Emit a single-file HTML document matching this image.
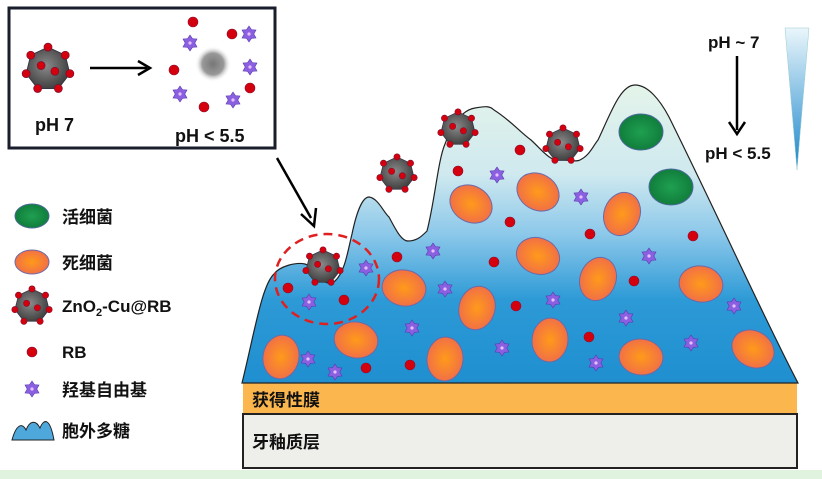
<!DOCTYPE html>
<html><head><meta charset="utf-8"><style>
body{margin:0;background:#fff;width:822px;height:479px;overflow:hidden}
svg{display:block}
text{font-family:"Liberation Sans","Noto Sans CJK SC",sans-serif;font-weight:bold;fill:#111}
</style></head><body>
<svg width="822" height="479" viewBox="0 0 822 479">
<defs>
<radialGradient id="pg" cx="0.45" cy="0.45" r="0.6"><stop offset="0" stop-color="#8a8a8a"/><stop offset="1" stop-color="#3a3a3a"/></radialGradient>
<radialGradient id="og" cx="0.5" cy="0.5" r="0.55"><stop offset="0" stop-color="#ff9a1a"/><stop offset="1" stop-color="#f06c4a"/></radialGradient>
<radialGradient id="gg" cx="0.5" cy="0.5" r="0.55"><stop offset="0" stop-color="#1fa050"/><stop offset="1" stop-color="#0f7a3a"/></radialGradient>
<radialGradient id="blur" cx="0.5" cy="0.5" r="0.5"><stop offset="0" stop-color="#777"/><stop offset="0.6" stop-color="#999"/><stop offset="1" stop-color="#fff" stop-opacity="0"/></radialGradient>
<linearGradient id="mg" x1="0" y1="85" x2="0" y2="383" gradientUnits="userSpaceOnUse">
<stop offset="0" stop-color="#e4f4ea"/><stop offset="0.3" stop-color="#cfe9ef"/><stop offset="0.5" stop-color="#8cc8ea"/><stop offset="0.72" stop-color="#2d9ad6"/><stop offset="1" stop-color="#1f8fd0"/></linearGradient>
<linearGradient id="tg" x1="0" y1="0" x2="0" y2="1"><stop offset="0" stop-color="#eaf6fb"/><stop offset="1" stop-color="#1a86cc"/></linearGradient>
<g id="part">
<polygon points="0,-19 15,-12 19,4 9,17 -9,17 -19,4 -15,-12" fill="url(#pg)" stroke="#334" stroke-width="0.8"/>
<g fill="#d4000d" stroke="#7a1030" stroke-width="0.6">
<circle cx="0" cy="-19" r="3.5"/><circle cx="15" cy="-12" r="3.5"/><circle cx="19" cy="4" r="3.5"/><circle cx="9" cy="17" r="3.5"/><circle cx="-9" cy="17" r="3.5"/><circle cx="-19" cy="4" r="3.5"/><circle cx="-15" cy="-12" r="3.5"/><circle cx="-6" cy="-3" r="3.5"/><circle cx="6" cy="2" r="3.5"/></g></g>
<g id="star"><polygon points="0,-8 2.5,-4.3 7,-4 4.8,0 7,4 2.5,4.3 0,8 -2.5,4.3 -7,4 -4.8,0 -7,-4 -2.5,-4.3" fill="#8a60e0" stroke="#5a3ab0" stroke-width="0.6"/><circle r="1.6" fill="#e8c0ff"/></g>
<g id="rd"><circle r="5" fill="#d4000d" stroke="#8a1030" stroke-width="0.6"/></g>
<g id="oe"><ellipse rx="22" ry="18" fill="url(#og)" stroke="#6a6aa8" stroke-width="1"/></g>
</defs>
<rect x="0" y="470" width="822" height="9" fill="#dff3df"/>
<rect x="9" y="8" width="266" height="140" fill="#fff" stroke="#1a1d2c" stroke-width="3"/>
<use href="#part" transform="translate(48,69) scale(1.15)"/>
<line x1="90" y1="68" x2="147" y2="68" stroke="#000" stroke-width="2.5"/>
<polyline points="138,61 150,68 138,75" fill="none" stroke="#000" stroke-width="2.5"/>
<circle cx="213" cy="64" r="18" fill="url(#blur)"/>
<use href="#rd" x="193" y="22"/><use href="#rd" x="232" y="34"/><use href="#rd" x="174" y="70"/><use href="#rd" x="250" y="88"/><use href="#rd" x="204" y="107"/>
<use href="#star" x="190" y="43"/><use href="#star" x="249" y="34"/><use href="#star" x="250" y="67"/><use href="#star" x="180" y="94"/><use href="#star" x="233" y="100"/>
<text x="35" y="131" font-size="18">pH 7</text>
<text x="175" y="142" font-size="18">pH &lt; 5.5</text>
<line x1="277" y1="158" x2="311" y2="218" stroke="#000" stroke-width="2.5"/>
<polyline points="301,214 314,226 316,208" fill="none" stroke="#000" stroke-width="2.5"/>
<ellipse cx="32" cy="216" rx="17" ry="12" fill="url(#gg)" stroke="#4a6a9a"/>
<text x="62" y="223" font-size="17">活细菌</text>
<ellipse cx="32" cy="262" rx="17" ry="12" fill="url(#og)" stroke="#6a6aa8"/>
<text x="62" y="269" font-size="17">死细菌</text>
<use href="#part" transform="translate(32,306) scale(0.9)"/>
<text x="62" y="312" font-size="17">ZnO<tspan font-size="11" dy="4">2</tspan><tspan dy="-4">-Cu@RB</tspan></text>
<use href="#rd" x="32" y="352"/>
<text x="62" y="358" font-size="17">RB</text>
<use href="#star" x="32" y="389"/>
<text x="62" y="396" font-size="17">羟基自由基</text>
<path d="M12,440 C16,425 22,422 26,430 C30,420 36,420 40,428 C44,418 50,418 54,440 Z" fill="#4ea8dc" stroke="#222" stroke-width="1"/>
<text x="62" y="437" font-size="17">胞外多糖</text>
<text x="708" y="48" font-size="17">pH ~ 7</text>
<line x1="737" y1="56" x2="737" y2="130" stroke="#000" stroke-width="2.5"/>
<polyline points="729,122 737,134 745,122" fill="none" stroke="#000" stroke-width="2.5"/>
<text x="705" y="159" font-size="17">pH &lt; 5.5</text>
<polygon points="785,28 809,28 797,170" fill="url(#tg)" stroke="#9cc" stroke-width="0.5"/>
<rect x="243" y="383" width="554" height="31" fill="#fbb64e"/>
<text x="252" y="406" font-size="17">获得性膜</text>
<rect x="243" y="414" width="554" height="54" fill="#eeeeea" stroke="#222" stroke-width="2"/>
<text x="252" y="448" font-size="17">牙釉质层</text>
<path d="M242,383 C255,330 262,285 274,274 C280,266 296,262 305,264 C318,268 322,290 335,281 C345,272 348,250 352,234 C357,210 363,197 369,197 C378,198 384,213 389,217 C395,228 401,241 408,241 C417,241 422,236 427,231 C435,200 438,160 445,144 C452,125 462,110 475,108 C486,106 490,106 494,110 C510,120 520,132 531,140 C542,150 550,162 561,160 C570,160 577,162 580,160 C590,155 593,146 598,140 C610,115 620,85 635,85 C648,85 660,100 669,117 C720,220 765,320 798,383 Z" fill="url(#mg)" stroke="#222" stroke-width="1.2"/>
<ellipse cx="641" cy="132" rx="22" ry="18" fill="url(#gg)" stroke="#4a6a9a"/>
<ellipse cx="671" cy="187" rx="22" ry="18" fill="url(#gg)" stroke="#4a6a9a"/>
<use href="#oe" transform="translate(471,204) rotate(30)"/>
<use href="#oe" transform="translate(538,192) rotate(30)"/>
<use href="#oe" transform="translate(622,214) rotate(-70)"/>
<use href="#oe" transform="translate(538,256) rotate(20)"/>
<use href="#oe" transform="translate(404,288) rotate(10)"/>
<use href="#oe" transform="translate(598,279) rotate(-70)"/>
<use href="#oe" transform="translate(701,284) rotate(10)"/>
<use href="#oe" transform="translate(477,308) rotate(-75)"/>
<use href="#oe" transform="translate(356,340) rotate(10)"/>
<use href="#oe" transform="translate(281,357) rotate(-80)"/>
<use href="#oe" transform="translate(445,359) rotate(-85)"/>
<use href="#oe" transform="translate(550,340) rotate(-85)"/>
<use href="#oe" transform="translate(641,357) rotate(5)"/>
<use href="#oe" transform="translate(753,349) rotate(30)"/>
<g>
<use href="#rd" x="520" y="150"/><use href="#rd" x="458" y="171"/><use href="#rd" x="510" y="222"/><use href="#rd" x="590" y="234"/><use href="#rd" x="693" y="236"/><use href="#rd" x="397" y="257"/><use href="#rd" x="494" y="262"/><use href="#rd" x="634" y="281"/><use href="#rd" x="516" y="306"/><use href="#rd" x="589" y="337"/><use href="#rd" x="366" y="368"/><use href="#rd" x="410" y="365"/><use href="#rd" x="288" y="288"/><use href="#rd" x="344" y="300"/>
</g>
<g>
<use href="#star" x="497" y="175"/><use href="#star" x="581" y="197"/><use href="#star" x="433" y="251"/><use href="#star" x="649" y="256"/><use href="#star" x="445" y="289"/><use href="#star" x="553" y="300"/><use href="#star" x="412" y="328"/><use href="#star" x="626" y="318"/><use href="#star" x="734" y="306"/><use href="#star" x="502" y="348"/><use href="#star" x="691" y="343"/><use href="#star" x="596" y="363"/><use href="#star" x="308" y="359"/><use href="#star" x="335" y="372"/><use href="#star" x="366" y="268"/><use href="#star" x="309" y="302"/>
</g>
<use href="#part" transform="translate(397,174) scale(0.9)"/>
<use href="#part" transform="translate(458,129) scale(0.9)"/>
<use href="#part" transform="translate(563,145) scale(0.9)"/>
<use href="#part" transform="translate(323,267) scale(0.9)"/>
<ellipse cx="327" cy="279" rx="52" ry="45" fill="none" stroke="#e02020" stroke-width="2.5" stroke-dasharray="9,6"/>
</svg>
</body></html>
